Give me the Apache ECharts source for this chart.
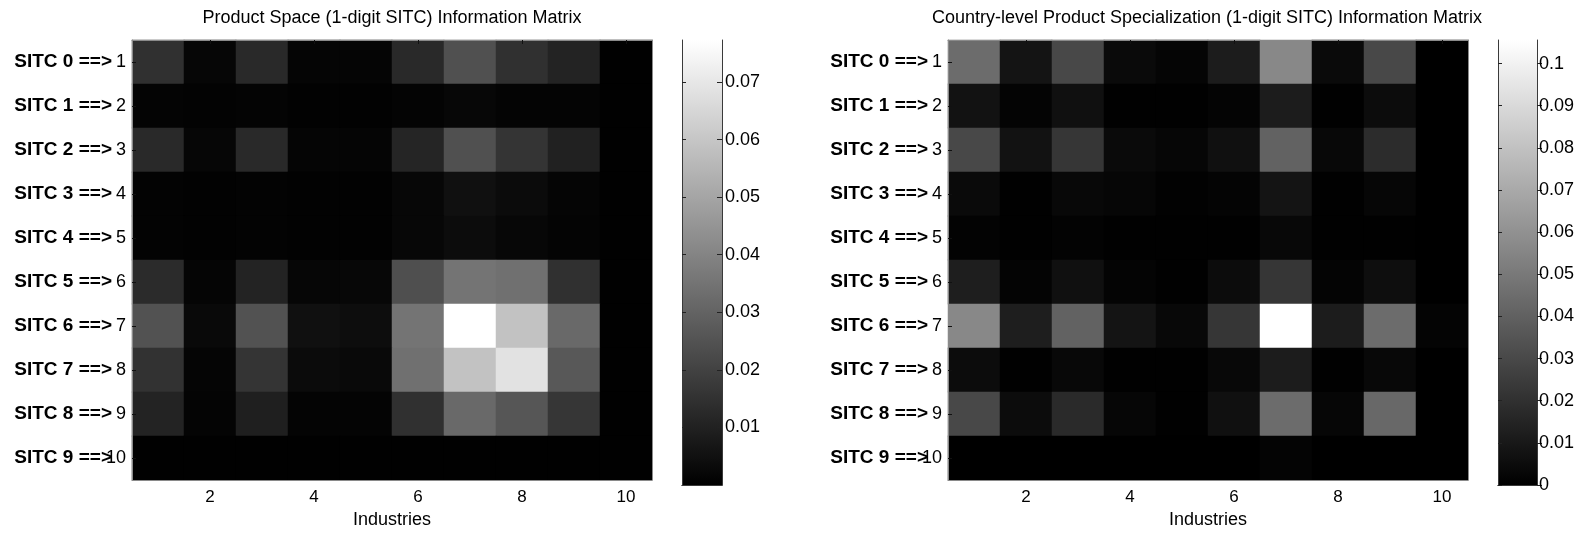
<!DOCTYPE html>
<html>
<head>
<meta charset="utf-8">
<script src="https://cdn.jsdelivr.net/npm/echarts@6/dist/echarts.min.js"></script>
<style>
html,body{margin:0;padding:0;background:#fff;}
#chart{width:1583px;height:534px;}
</style>
</head>
<body>
<div id="chart"></div>
<script>
// ---------------- data ----------------
const industries = ['1','2','3','4','5','6','7','8','9','10'];
const rowNumbers = ['1','2','3','4','5','6','7','8','9','10'];
const sitcNames = ['SITC 0 ==>','SITC 1 ==>','SITC 2 ==>','SITC 3 ==>','SITC 4 ==>',
                   'SITC 5 ==>','SITC 6 ==>','SITC 7 ==>','SITC 8 ==>','SITC 9 ==>'];
const leftTitle = 'Product Space (1-digit SITC) Information Matrix';
const rightTitle = 'Country-level Product Specialization (1-digit SITC) Information Matrix';
const xName = 'Industries';

// rows = SITC 0..9, columns = industries 1..10
const productSpace = [
  [0.0147, 0.0017, 0.0123, 0.0014, 0.0014, 0.0123, 0.0244, 0.0147, 0.0105, 0.0002],
  [0.0011, 0.0008, 0.0011, 0.0005, 0.0005, 0.0011, 0.0020, 0.0011, 0.0011, 0.0002],
  [0.0123, 0.0017, 0.0123, 0.0014, 0.0014, 0.0111, 0.0244, 0.0159, 0.0099, 0.0002],
  [0.0008, 0.0005, 0.0008, 0.0005, 0.0005, 0.0020, 0.0050, 0.0032, 0.0014, 0.0002],
  [0.0008, 0.0005, 0.0008, 0.0005, 0.0005, 0.0020, 0.0035, 0.0020, 0.0011, 0.0002],
  [0.0129, 0.0014, 0.0105, 0.0017, 0.0020, 0.0238, 0.0353, 0.0341, 0.0147, 0.0002],
  [0.0250, 0.0026, 0.0250, 0.0050, 0.0038, 0.0353, 0.0773, 0.0589, 0.0317, 0.0002],
  [0.0153, 0.0014, 0.0159, 0.0032, 0.0026, 0.0341, 0.0589, 0.0685, 0.0268, 0.0002],
  [0.0105, 0.0011, 0.0093, 0.0011, 0.0011, 0.0147, 0.0317, 0.0262, 0.0165, 0.0002],
  [0.0002, 0.0002, 0.0002, 0.0002, 0.0002, 0.0002, 0.0002, 0.0002, 0.0002, 0.0002]
];
const countrySpec = [
  [0.0447, 0.0083, 0.0298, 0.0041, 0.0021, 0.0116, 0.0563, 0.0041, 0.0298, 0],
  [0.0075, 0.0017, 0.0066, 0.0004, 0.0004, 0.0017, 0.0116, 0.0004, 0.0050, 0],
  [0.0298, 0.0075, 0.0224, 0.0041, 0.0025, 0.0066, 0.0406, 0.0033, 0.0182, 0],
  [0.0041, 0.0004, 0.0033, 0.0025, 0.0008, 0.0017, 0.0083, 0.0004, 0.0025, 0],
  [0.0012, 0.0004, 0.0012, 0.0004, 0.0004, 0.0004, 0.0033, 0.0004, 0.0004, 0],
  [0.0124, 0.0017, 0.0066, 0.0017, 0.0004, 0.0050, 0.0224, 0.0017, 0.0058, 0],
  [0.0563, 0.0124, 0.0406, 0.0083, 0.0033, 0.0224, 0.1056, 0.0116, 0.0447, 0.0017],
  [0.0050, 0.0004, 0.0033, 0.0004, 0.0004, 0.0033, 0.0116, 0.0004, 0.0033, 0],
  [0.0298, 0.0050, 0.0174, 0.0025, 0.0004, 0.0066, 0.0447, 0.0025, 0.0431, 0],
  [0, 0, 0, 0, 0, 0, 0.0017, 0, 0, 0]
];
const productSpaceRange = [0, 0.0773];
const countrySpecRange = [0, 0.1056];
const productSpaceTicks = [0.01, 0.02, 0.03, 0.04, 0.05, 0.06, 0.07];
const countrySpecTicks = [0, 0.01, 0.02, 0.03, 0.04, 0.05, 0.06, 0.07, 0.08, 0.09, 0.1];

// ---------------- styles ----------------
const FONT = 'Liberation Sans, Arial, Helvetica, sans-serif';
const FRAME = '#8a8a8a';
const CBFRAME = '#3a3a3a';
const NO_SPLIT = { splitLine: { show: false }, splitArea: { show: false }, minorTick: { show: false } };

function toCells(m) {
  const out = [];
  m.forEach((row, r) => row.forEach((v, c) => out.push([c, r, v])));
  return out;
}
const evenIdx = (i) => i % 2 === 1;

function heatmapAxes(gridIndex) {
  const xs = [
    Object.assign({
      gridIndex, type: 'category', data: industries, position: 'bottom', z: 5,
      axisLine: { show: true, lineStyle: { color: FRAME, width: 1 } },
      axisTick: { show: false },
      axisLabel: { interval: evenIdx, margin: 9, color: '#000', fontSize: 17, fontFamily: FONT },
      name: xName, nameLocation: 'middle', nameGap: 31,
      nameTextStyle: { color: '#000', fontSize: 18, fontFamily: FONT }
    }, NO_SPLIT),
    Object.assign({
      gridIndex, type: 'category', data: industries, position: 'top', z: 5,
      axisLine: { show: true, lineStyle: { color: FRAME, width: 1 } },
      axisTick: { show: true, inside: true, length: 4, alignWithLabel: true, interval: evenIdx,
                  lineStyle: { color: '#111' } },
      axisLabel: { show: false }
    }, NO_SPLIT)
  ];
  const ys = [
    Object.assign({
      gridIndex, type: 'category', data: rowNumbers, inverse: true, position: 'left', z: 5,
      axisLine: { show: true, lineStyle: { color: FRAME, width: 1 } },
      axisTick: { show: true, inside: true, length: 4, alignWithLabel: true,
                  lineStyle: { color: '#111' } },
      axisLabel: { margin: 6, color: '#000', fontSize: 18, fontFamily: FONT }
    }, NO_SPLIT),
    Object.assign({
      gridIndex, type: 'category', data: sitcNames, inverse: true, position: 'left', z: 6,
      axisLine: { show: false }, axisTick: { show: false },
      axisLabel: { margin: 20, color: '#000', fontSize: 19, fontWeight: 'bold', fontFamily: FONT }
    }, NO_SPLIT),
    Object.assign({
      gridIndex, type: 'category', data: rowNumbers, inverse: true, position: 'right', z: 5,
      axisLine: { show: true, lineStyle: { color: FRAME, width: 1 } },
      axisTick: { show: false }, axisLabel: { show: false }
    }, NO_SPLIT)
  ];
  return { xs, ys };
}

function colorbarAxes(gridIndex, range, ticks, outsideRightTicks, labelMargin) {
  const xs = [
    Object.assign({ gridIndex, type: 'category', data: ['cb'], position: 'bottom', z: 5,
      axisLine: { show: true, lineStyle: { color: CBFRAME } },
      axisTick: { show: false }, axisLabel: { show: false } }, NO_SPLIT),
    Object.assign({ gridIndex, type: 'category', data: ['cb'], position: 'top', z: 5,
      axisLine: { show: true, lineStyle: { color: CBFRAME } },
      axisTick: { show: false }, axisLabel: { show: false } }, NO_SPLIT)
  ];
  const ys = [
    Object.assign({ gridIndex, type: 'value', min: range[0], max: range[1],
      position: 'left', z: 5,
      axisLine: { show: true, lineStyle: { color: CBFRAME } },
      axisTick: { show: true, inside: true, length: 4, customValues: ticks, lineStyle: { color: '#222' } },
      axisLabel: { show: false } }, NO_SPLIT),
    Object.assign({ gridIndex, type: 'value', min: range[0], max: range[1],
      position: 'right', z: 5,
      axisLine: { show: true, lineStyle: { color: CBFRAME } },
      axisTick: { show: true, inside: !outsideRightTicks, length: 5, customValues: ticks,
                  lineStyle: { color: '#222' } },
      axisLabel: { show: true, margin: labelMargin, color: '#000', fontSize: 18, fontFamily: FONT,
                   customValues: ticks } }, NO_SPLIT)
  ];
  return { xs, ys };
}

const hL = heatmapAxes(0);
const cL = colorbarAxes(1, productSpaceRange, productSpaceTicks, false, 3);
const hR = heatmapAxes(2);
const cR = colorbarAxes(3, countrySpecRange, countrySpecTicks, true, 2);

const xAxis = [...hL.xs, ...cL.xs, ...hR.xs, ...cR.xs];   // 0,1 | 2,3 | 4,5 | 6,7
const yAxis = [...hL.ys, ...cL.ys, ...hR.ys, ...cR.ys];   // 0,1,2 | 3,4 | 5,6,7 | 8,9

const grayGradient = () => new echarts.graphic.LinearGradient(0, 0, 0, 1, [
  { offset: 0, color: '#ffffff' }, { offset: 1, color: '#000000' }
]);

const option = {
  backgroundColor: '#ffffff',
  animation: false,
  title: [
    { text: leftTitle, left: 392, top: 9, padding: 0, textAlign: 'center',
      textStyle: { fontSize: 18, fontWeight: 'normal', color: '#000', fontFamily: FONT } },
    { text: rightTitle, left: 1207, top: 9, padding: 0, textAlign: 'center',
      textStyle: { fontSize: 18, fontWeight: 'normal', color: '#000', fontFamily: FONT } }
  ],
  grid: [
    { left: 132, top: 40, width: 520, height: 440, outerBoundsMode: 'none', containLabel: false },
    { left: 682, top: 40, width: 40, height: 445, outerBoundsMode: 'none', containLabel: false },
    { left: 948, top: 40, width: 520, height: 440, outerBoundsMode: 'none', containLabel: false },
    { left: 1498, top: 40, width: 39, height: 445, outerBoundsMode: 'none', containLabel: false }
  ],
  xAxis,
  yAxis,
  visualMap: [
    { show: false, type: 'continuous', seriesIndex: 0,
      min: productSpaceRange[0], max: productSpaceRange[1],
      inRange: { color: ['#000000', '#ffffff'] } },
    { show: false, type: 'continuous', seriesIndex: 2,
      min: countrySpecRange[0], max: countrySpecRange[1],
      inRange: { color: ['#000000', '#ffffff'] } }
  ],
  series: [
    { type: 'heatmap', xAxisIndex: 0, yAxisIndex: 0, data: toCells(productSpace),
      emphasis: { disabled: true }, itemStyle: { borderWidth: 0 } },
    { type: 'bar', xAxisIndex: 2, yAxisIndex: 3, data: [productSpaceRange[1]],
      barWidth: '100%', itemStyle: { color: grayGradient() }, silent: true },
    { type: 'heatmap', xAxisIndex: 4, yAxisIndex: 5, data: toCells(countrySpec),
      emphasis: { disabled: true }, itemStyle: { borderWidth: 0 } },
    { type: 'bar', xAxisIndex: 6, yAxisIndex: 8, data: [countrySpecRange[1]],
      barWidth: '100%', itemStyle: { color: grayGradient() }, silent: true }
  ]
};

const chart = echarts.init(document.getElementById('chart'), null, { renderer: 'canvas' });
chart.setOption(option);
</script>
</body>
</html>
